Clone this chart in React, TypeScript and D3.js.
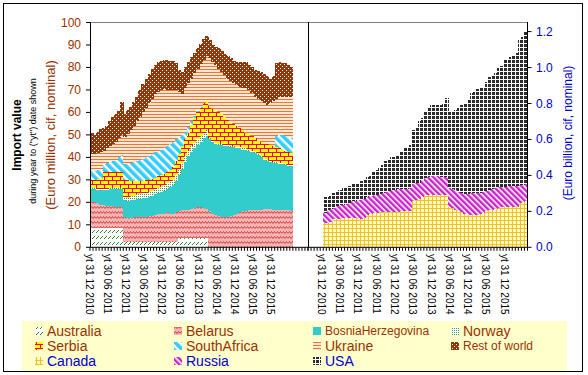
import React from "react";
import * as d3 from "d3";

// ---------- DATA (monthly, yt Dec 2010 .. yt Jun 2016) ----------
const tickLabels = [
  "yt 31 12 2010", "yt 30 06 2011", "yt 31 12 2011", "yt 30 06 2011", "yt 31 12 2012",
  "yt 30 06 2013", "yt 31 12 2013", "yt 30 06 2014", "yt 31 12 2014", "yt 30 06 2015", "yt 31 12 2015",
];

// Left panel, Euro million
const australia = [
  8.5, 8.5, 8.5, 8.5, 8.5, 8.5, 8.5, 8.5, 8.5, 8.5, 8.5,
  2.4, 2.4, 2.4, 2.4, 2.4, 2.4, 2.4, 2.4, 2.4, 2.4, 2.4, 2.4, 2.4, 2.4, 2.4, 2.4, 2.4, 2.4,
  4, 4, 4, 4, 4, 4, 4, 4, 4, 4,
  0, 0, 0, 0, 0, 0, 0, 0, 0, 0, 0, 0, 0, 0, 0, 0, 0, 0, 0, 0, 0, 0, 0, 0, 0, 0, 0, 0,
];
const belarus = [
  11.5, 11.5, 11, 10.5, 10.5, 10, 10, 10, 9.5, 9.5, 9.5,
  11.1, 10.6, 10.6, 11.1, 11.1, 11.1, 11.1, 11.1, 11.6, 11.6, 12.1, 12.6, 12.6, 12.6, 13.1, 12.6, 12.6, 13.1,
  12, 12.5, 12.5, 12.5, 13, 13.5, 14, 14, 13.5, 13.2,
  16, 15, 14.5, 14, 13.5, 13.5, 13.5, 14, 14.5, 15, 15.5, 16, 16, 16.5, 16.5, 16.5, 16.5, 16.5, 17, 17, 17, 16.5, 16.5, 16.5, 16.5, 16.5, 16.5, 16,
];
const bosnia = [
  6, 6, 6, 6.5, 6.5, 7, 7.5, 7.5, 8, 8, 8,
  7.5, 7.5, 8, 7.5, 8, 8, 8.5, 8.5, 8.5, 9, 9, 9, 9.5, 10, 10.5, 12, 12.5, 14, 16, 18.5, 21.5, 24, 25.5, 26.5, 27.5, 29, 31, 32.3,
  32, 32, 31.5, 31.5, 32, 31.5, 31.5, 30.5, 30, 29, 28.5, 27.5, 27.5, 26.5, 26, 25.5, 24.5, 23.5, 22, 21.5, 21, 21, 21, 20.5, 20.5, 20, 19.5, 20,
];
const norway = [
  0.5, 0.5, 0.5, 0.5, 0.5, 0.5, 0.5, 0.5, 0.5, 0.5, 0.5,
  1.5, 1.5, 2, 2, 2, 2, 2, 2, 2, 2,
  2.5, 2.5, 2.5, 2.5, 2.5, 2.5, 2.5, 2.5, 2.5, 2.5, 2.5, 2.5, 2.5, 2.5, 2.5, 2.5, 2.5, 2.5,
  0.5, 0.5, 0.5, 0.5, 0.5, 0.5, 0.5, 0.5, 0.5, 0.5, 0.5, 0.5, 0.5, 0.5, 0.5, 0.5, 0.5, 0.5, 0.5, 0.5, 0.5, 0.5, 0.5, 0.5, 0.5, 0.5, 0.5, 0.5,
];
const serbia = [
  3.5, 3.5, 4.5, 4.5, 7.5, 7.5, 7, 7, 7, 7, 7,
  7.5, 7.8, 6.5, 6.5, 6, 6, 5.5, 5.8, 5.5, 5.5, 5, 5, 5, 5, 5, 5, 5.5, 6.5, 7, 7.5, 7.5, 8, 9.5, 11, 12, 12.5, 13, 13.3,
  14.5, 14, 14, 14, 13.5, 12.5, 11, 10.5, 10, 9.5, 8.5, 8, 7, 7, 6.5, 6, 6, 6.5, 7, 7, 7, 7, 6.5, 6.5, 6, 6, 6, 5.5,
];
const southAfrica = [
  4, 4, 4, 4, 3.5, 4, 4.5, 5, 5.5, 6.5, 7.5,
  7, 7.4, 8, 8.5, 9, 9.5, 10, 10.2, 10.5, 10.5, 11.4, 11.5, 11.5, 11.5, 11.5, 11.5, 11.5, 9.5, 7.5, 5, 3.5, 2.5, 1.5, 1, 0.5,
  0.3, 0, 0, 0, 0, 0, 0, 0, 0, 0, 0, 0, 0, 0, 0, 0, 0, 0, 0, 0, 0, 0, 0, 0, 0,
  5, 6, 6.5, 6.5, 6.5, 6.5,
];
const ukraine = [
  7.5, 7.5, 7.5, 8, 6, 6.5, 7, 7.5, 8, 8.5, 9,
  12, 13.4, 14.5, 16, 17.5, 19, 20.5, 22, 23.5, 25, 25.6, 26, 26.5, 26.5, 25, 24, 22.8, 22, 20, 18, 19.5, 19.5, 19, 19, 19, 19.2, 19.5, 20,
  21, 21, 20.5, 19.5, 18.5, 18.5, 18.5, 18.5, 18, 18, 18.5, 19, 20, 19.5, 19, 18.5, 18.5, 18, 17.5, 17.5, 18.5, 20, 16.5, 17, 17, 17.5, 18, 18.3,
];
const restOfWorld = [
  9.5, 8.5, 9.5, 10, 10, 10, 11, 12, 12.5, 12, 14.5,
  10.5, 10.4, 10.5, 10.5, 11, 12, 12.5, 13, 13, 13.5, 13, 13.5, 13, 13, 13.5, 13, 13.2, 12, 10, 10, 9, 9.5, 9.5, 9, 9, 9, 9, 8.9,
  8, 7.5, 8, 9, 9.5, 9.5, 10.3, 10, 10, 10.5, 11, 11.5, 11.4, 11, 11.5, 12, 12.5, 13, 13, 12.5, 11, 11, 16, 15.5, 15, 15, 14, 13.2,
];

// Right panel, Euro billion
const canada = [
  0.133, 0.133, 0.14, 0.155, 0.16, 0.16, 0.165, 0.165, 0.165, 0.165, 0.165,
  0.16, 0.16, 0.165, 0.18, 0.185, 0.19, 0.19, 0.195, 0.195, 0.195,
  0.195, 0.195, 0.195, 0.195, 0.2, 0.2, 0.2, 0.2, 0.255, 0.265,
  0.27, 0.28, 0.29, 0.29, 0.29, 0.29, 0.29, 0.29, 0.29, 0.29,
  0.225, 0.22, 0.21, 0.2, 0.195, 0.185, 0.18, 0.18, 0.18, 0.18,
  0.185, 0.19, 0.2, 0.205, 0.21, 0.215, 0.22, 0.225, 0.225, 0.225,
  0.225, 0.225, 0.225, 0.245, 0.25, 0.255,
];
const russia = [
  0.057, 0.077, 0.075, 0.065, 0.07, 0.075, 0.07, 0.075, 0.08, 0.09, 0.095,
  0.105, 0.105, 0.105, 0.1, 0.1, 0.1, 0.1, 0.1, 0.105, 0.115,
  0.12, 0.125, 0.125, 0.13, 0.125, 0.125, 0.125, 0.13, 0.095, 0.09,
  0.09, 0.095, 0.095, 0.1, 0.105, 0.105, 0.105, 0.1, 0.1, 0.1,
  0.105, 0.105, 0.11, 0.11, 0.105, 0.11, 0.115, 0.12, 0.12, 0.12,
  0.115, 0.115, 0.115, 0.115, 0.115, 0.115, 0.115, 0.11, 0.11, 0.115,
  0.115, 0.115, 0.115, 0.1, 0.095, 0.095,
];
const usa = [
  0.09, 0.07, 0.075, 0.08, 0.08, 0.085, 0.095, 0.09, 0.095, 0.095, 0.095,
  0.095, 0.105, 0.11, 0.11, 0.115, 0.13, 0.14, 0.145, 0.16, 0.17,
  0.175, 0.18, 0.18, 0.185, 0.205, 0.225, 0.235, 0.24, 0.3, 0.315,
  0.34, 0.345, 0.375, 0.39, 0.395, 0.395, 0.395, 0.4, 0.41, 0.44,
  0.425, 0.435, 0.445, 0.47, 0.49, 0.505, 0.525, 0.56, 0.57, 0.58,
  0.585, 0.585, 0.605, 0.63, 0.635, 0.64, 0.665, 0.675, 0.705, 0.71,
  0.72, 0.73, 0.74, 0.815, 0.825, 0.85,
];

const leftAxisTicks = [0, 10, 20, 30, 40, 50, 60, 70, 80, 90, 100];
const rightAxisTicks = [0, 0.2, 0.4, 0.6, 0.8, 1.0, 1.2];

// ---------- STYLE ----------
const BROWN = "#993300";
const BLUE = "#0000CC";
const FONT = "'Liberation Sans', Arial, sans-serif";

const leftSeries = [
  { key: "Australia", values: australia, fill: "url(#pAus)" },
  { key: "Belarus", values: belarus, fill: "url(#pBel)" },
  { key: "BosniaHerzegovina", values: bosnia, fill: "#33CCCC" },
  { key: "Norway", values: norway, fill: "url(#pNor)" },
  { key: "Serbia", values: serbia, fill: "url(#pSer)" },
  { key: "SouthAfrica", values: southAfrica, fill: "url(#pSA)" },
  { key: "Ukraine", values: ukraine, fill: "url(#pUkr)" },
  { key: "Rest of world", values: restOfWorld, fill: "url(#pRow)" },
];
const rightSeries = [
  { key: "Canada", values: canada, fill: "url(#pCan)" },
  { key: "Russia", values: russia, fill: "url(#pRus)" },
  { key: "USA", values: usa, fill: "url(#pUsa)" },
];

const legendItems = [
  { key: "Australia", fill: "url(#pAus)", color: BROWN, size: 14 },
  { key: "Belarus", fill: "url(#pBel)", color: BROWN, size: 14 },
  { key: "BosniaHerzegovina", fill: "#33CCCC", color: BROWN, size: 12 },
  { key: "Norway", fill: "url(#pNor)", color: BROWN, size: 14 },
  { key: "Serbia", fill: "url(#pSer)", color: BROWN, size: 14 },
  { key: "SouthAfrica", fill: "url(#pSA)", color: BROWN, size: 14 },
  { key: "Ukraine", fill: "url(#pUkr)", color: BROWN, size: 14 },
  { key: "Rest of world", fill: "url(#pRow)", color: BROWN, size: 12 },
  { key: "Canada", fill: "url(#pCan)", color: BLUE, size: 14 },
  { key: "Russia", fill: "url(#pRus)", color: BLUE, size: 14 },
  { key: "USA", fill: "url(#pUsa)", color: BLUE, size: 14 },
];

const N = australia.length;
const SLOTS = 72;
const RIGHT_OFFSET = SLOTS - N;

const left = { x0: 90, x1: 308 };
const right = { x0: 308, x1: 527.5 };
const yTop = 22;
const yBase = 247.3;

export default function App() {
  const xL = d3.scaleBand<number>().domain(d3.range(SLOTS)).range([left.x0, left.x1]);
  const xR = d3.scaleBand<number>().domain(d3.range(SLOTS)).range([right.x0, right.x1]);
  const yL = d3.scaleLinear().domain([0, 100]).range([yBase, 22.5]);
  const yR = d3.scaleLinear().domain([0, 1.2]).range([yBase, 31.6]);

  const leftRows = d3.range(N).map((i) => {
    const r: Record<string, number> = {};
    leftSeries.forEach((s) => (r[s.key] = s.values[i]));
    return r;
  });
  const rightRows = d3.range(N).map((i) => {
    const r: Record<string, number> = {};
    rightSeries.forEach((s) => (r[s.key] = s.values[i]));
    return r;
  });
  const leftStack = d3.stack<Record<string, number>>().keys(leftSeries.map((s) => s.key))(leftRows);
  const rightStack = d3.stack<Record<string, number>>().keys(rightSeries.map((s) => s.key))(rightRows);

  const bwL = xL.bandwidth();
  const bwR = xR.bandwidth();

  const legendCols = [35, 174, 313, 451];
  const legendRows = [331, 346, 361];

  return (
    <svg width={588} height={375} style={{ position: "absolute", left: 0, top: 0, fontFamily: FONT }}>
      <defs>
        <pattern id="pAus" width="4" height="6" patternUnits="userSpaceOnUse">
          <rect width="4" height="6" fill="#fff" />
          <path d="M0,5 L3,2" stroke="#2E8B2E" strokeWidth="1" />
        </pattern>
        <pattern id="pBel" width="6" height="5" patternUnits="userSpaceOnUse">
          <rect width="6" height="5" fill="#F4B4B4" />
          <path d="M0,3.5 L1.5,1.5 L3,3.5 L4.5,1.5 L6,3.5" stroke="#D03030" strokeWidth="0.9" fill="none" />
        </pattern>
        <pattern id="pNor" width="2" height="2" patternUnits="userSpaceOnUse">
          <rect width="2" height="2" fill="#fff" />
          <rect width="1" height="1" fill="#3C9A5C" />
        </pattern>
        <pattern id="pSer" width="8" height="8" patternUnits="userSpaceOnUse">
          <rect width="8" height="8" fill="#FFFF00" />
          <path d="M0,0.5 H8 M0,4.5 H8 M0.5,0 V4.5 M4.5,4.5 V8" stroke="#FF0000" strokeWidth="1" />
        </pattern>
        <pattern id="pSA" width="6" height="6" patternUnits="userSpaceOnUse" patternTransform="rotate(-45)">
          <rect width="6" height="6" fill="#fff" />
          <rect width="3.6" height="6" fill="#33CCFF" />
        </pattern>
        <pattern id="pUkr" width="4" height="3" patternUnits="userSpaceOnUse">
          <rect width="4" height="3" fill="#FDE7D6" />
          <rect width="4" height="1" fill="#EE7530" />
        </pattern>
        <pattern id="pRow" width="4" height="4" patternUnits="userSpaceOnUse">
          <rect width="4" height="4" fill="#993300" />
          <rect x="0" y="0" width="1" height="1" fill="#fff" />
          <rect x="2" y="2" width="1" height="1" fill="#fff" />
        </pattern>
        <pattern id="pCan" width="4" height="4" patternUnits="userSpaceOnUse">
          <rect width="4" height="4" fill="#FFF9C8" />
          <path d="M0.5,0 V4 M0,0.5 H4" stroke="#F2C31C" strokeWidth="1" />
        </pattern>
        <pattern id="pRus" width="4" height="4" patternUnits="userSpaceOnUse" patternTransform="rotate(-45)">
          <rect width="4" height="4" fill="#fff" />
          <rect width="2.4" height="4" fill="#CC22CC" />
        </pattern>
        <pattern id="pUsa" width="4" height="4" patternUnits="userSpaceOnUse">
          <rect width="4" height="4" fill="#fff" />
          <rect width="3" height="3" fill="#2B2B2B" />
        </pattern>
      </defs>

      {/* outer border */}
      <rect x={3.5} y={3.5} width={579} height={368} fill="#fff" stroke="#000" strokeWidth={1} />

      {/* bars */}
      <g shapeRendering="crispEdges">
        {leftStack.map((layer, li) => (
          <g key={layer.key} fill={leftSeries[li].fill}>
            {layer.map((d, i) =>
              d[1] - d[0] > 0 ? (
                <rect key={i} x={xL(i)!} width={bwL + 0.5} y={yL(d[1])} height={yL(d[0]) - yL(d[1])} />
              ) : null
            )}
          </g>
        ))}
        {rightStack.map((layer, li) => (
          <g key={layer.key} fill={rightSeries[li].fill}>
            {layer.map((d, i) =>
              d[1] - d[0] > 0 ? (
                <rect key={i} x={xR(i + RIGHT_OFFSET)!} width={bwR + 0.5} y={yR(d[1])} height={yR(d[0]) - yR(d[1])} />
              ) : null
            )}
          </g>
        ))}
      </g>

      {/* frame lines */}
      <line x1={left.x0} x2={right.x1} y1={yTop + 0.5} y2={yTop + 0.5} stroke="#808080" />
      <line x1={left.x0 + 0.5} x2={left.x0 + 0.5} y1={yTop} y2={yBase} stroke="#000" />
      <line x1={left.x1 + 0.5} x2={left.x1 + 0.5} y1={yTop} y2={yBase} stroke="#000" />
      <line x1={right.x1} x2={right.x1} y1={yTop} y2={yBase} stroke="#000" />
      <line x1={left.x0} x2={right.x1} y1={yBase} y2={yBase} stroke="#000" />

      {/* x ticks */}
      {d3.range(SLOTS + 1).map((i) => {
        const x = left.x0 + i * bwL;
        return <line key={"tl" + i} x1={x} x2={x} y1={yBase} y2={yBase + 3.5} stroke="#000" />;
      })}
      {d3.range(SLOTS + 1).map((i) => {
        const x = right.x0 + i * bwR;
        return <line key={"tr" + i} x1={x} x2={x} y1={yBase} y2={yBase + 3.5} stroke="#000" />;
      })}

      {/* x labels */}
      {tickLabels.map((t, k) => {
        const xl = xL(k * 6)! + bwL / 2 - 2.5;
        const xr = xR(k * 6 + RIGHT_OFFSET)! + bwR / 2 - 3.5;
        return (
          <g key={"xl" + k} fontSize={10} fill="#000">
            <text transform={`translate(${xl},254) rotate(90)`} dominantBaseline="central">{t}</text>
            <text transform={`translate(${xr},254) rotate(90)`} dominantBaseline="central">{t}</text>
          </g>
        );
      })}

      {/* left y axis */}
      {leftAxisTicks.map((v) => (
        <g key={"ly" + v}>
          <line x1={86} x2={left.x0} y1={yL(v)} y2={yL(v)} stroke="#000" />
          <text x={81} y={yL(v)} textAnchor="end" dominantBaseline="central" fontSize={12} fill={BROWN}>
            {v}
          </text>
        </g>
      ))}
      {/* right y axis */}
      {rightAxisTicks.map((v) => (
        <g key={"ry" + v}>
          <line x1={right.x1} x2={right.x1 + 4} y1={yR(v)} y2={yR(v)} stroke="#000" />
          <text x={536} y={yR(v)} dominantBaseline="central" fontSize={12} fill={BLUE}>
            {v.toFixed(1)}
          </text>
        </g>
      ))}

      {/* axis titles */}
      <text transform="translate(17,135) rotate(-90)" textAnchor="middle" dominantBaseline="central" fontSize={12} fontWeight="bold" fill="#000">
        Import value
      </text>
      <text transform="translate(33,141) rotate(-90)" textAnchor="middle" dominantBaseline="central" fontSize={9} fill="#000">
        during year to ("yt") date shown
      </text>
      <text transform="translate(50,135) rotate(-90)" textAnchor="middle" dominantBaseline="central" fontSize={13} fill={BROWN}>
        (Euro million, cif, nominal)
      </text>
      <text transform="translate(568,133) rotate(-90)" textAnchor="middle" dominantBaseline="central" fontSize={12} fill={BLUE}>
        (Euro billion, cif, nominal)
      </text>

      {/* legend */}
      <rect x={22} y={321} width={545} height={50} fill="#FFFFCC" />
      {legendItems.map((it, i) => {
        const cx = legendCols[i % 4];
        const cy = legendRows[Math.floor(i / 4)];
        return (
          <g key={it.key}>
            <rect x={cx} y={cy - 4} width={8} height={8} fill={it.fill} />
            <text x={cx + 12} y={cy} dominantBaseline="central" fontSize={it.size} fill={it.color}>
              {it.key}
            </text>
          </g>
        );
      })}
    </svg>
  );
}
